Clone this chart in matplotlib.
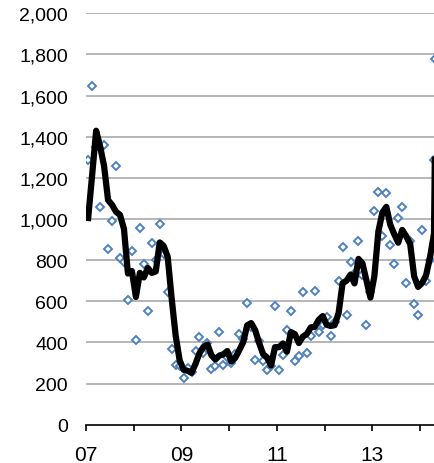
import matplotlib
matplotlib.use("Agg")
import matplotlib.pyplot as plt
import numpy as np

plt.rcParams['font.family'] = ['Liberation Sans', 'DejaVu Sans']

# monthly values from Jan 2007, one per month (last one is a partial month)
monthly = [1288, 1648, 1351, 1060, 1361, 854, 992, 1259, 809, 789, 606, 846,
           412, 955, 781, 551, 883, 800, 976, 830, 643, 368, 290, 285,
           227, 274, 255, 360, 428, 347, 396, 271, 284, 452, 290, 331,
           300, 344, 441, 417, 590, 476, 313, 405, 310, 266, 287, 579,
           266, 339, 460, 551, 308, 332, 643, 347, 430, 651, 449, 485,
           525, 430, 498, 700, 866, 533, 791, 736, 891, 726, 486, 643,
           1040, 1133, 919, 1125, 872, 781, 1003, 1057, 689, 891, 587, 533,
           948, 697, 801, 1288, 1778]

# the thick black line (3 month average as drawn)
avg_line = [1005, 1215, 1429, 1353, 1257, 1092, 1069, 1035, 1020, 952, 735, 747,
            621, 738, 716, 762, 738, 745, 886, 869, 816, 614, 434, 314,
            267, 262, 252, 296, 348, 378, 390, 338, 317, 336, 342, 358,
            307, 325, 362, 401, 483, 494, 460, 398, 343, 327, 288, 377,
            377, 395, 355, 450, 440, 397, 428, 441, 473, 476, 510, 528,
            486, 480, 484, 543, 688, 700, 730, 687, 806, 784, 701, 618,
            723, 939, 1031, 1059, 972, 926, 885, 947, 916, 879, 722, 670,
            689, 726, 815, 929, 1289]

# month number since Jan 2007
month_no = list(range(88)) + [87.2]

years = [2007, 2008, 2009, 2010, 2011, 2012, 2013, 2014]
year_labels = ['07', '', '09', '', '11', '', '13', '']

x = 2007 + (np.array(month_no) + 0.55) / 12.0

fig = plt.figure(figsize=(4.35, 4.64), dpi=100)
ax = fig.add_axes([86/435, 38.3/464, 349/435, 411.4/464])

ax.plot(x, monthly, linestyle='none', marker='D', markersize=3.7,
        markerfacecolor='white', markeredgecolor='#4f81bd',
        markeredgewidth=1.4, zorder=3)
ax.plot(x, avg_line, color='black', linewidth=4.5, zorder=4,
        solid_joinstyle='round')

ax.set_xlim(2007, 2007 + 349/47.7)
ax.set_ylim(0, 2000)

ax.set_yticks(range(0, 2001, 200))
ax.set_yticklabels(['{:,}'.format(v) for v in range(0, 2001, 200)])
ax.set_xticks(years)
ax.set_xticklabels(year_labels)

for v in range(200, 2001, 200):
    ax.axhline(v, color='#b0b0b0', linewidth=1.3, zorder=1)

for s in ['top', 'right', 'left']:
    ax.spines[s].set_visible(False)
ax.spines['bottom'].set_linewidth(1.2)
ax.spines['bottom'].set_color('black')

ax.tick_params(axis='y', length=0, pad=13, labelsize=14)
ax.tick_params(axis='x', direction='out', length=4.5, width=1.2,
               pad=10, labelsize=15)

fig.savefig('out.png', dpi=100)
